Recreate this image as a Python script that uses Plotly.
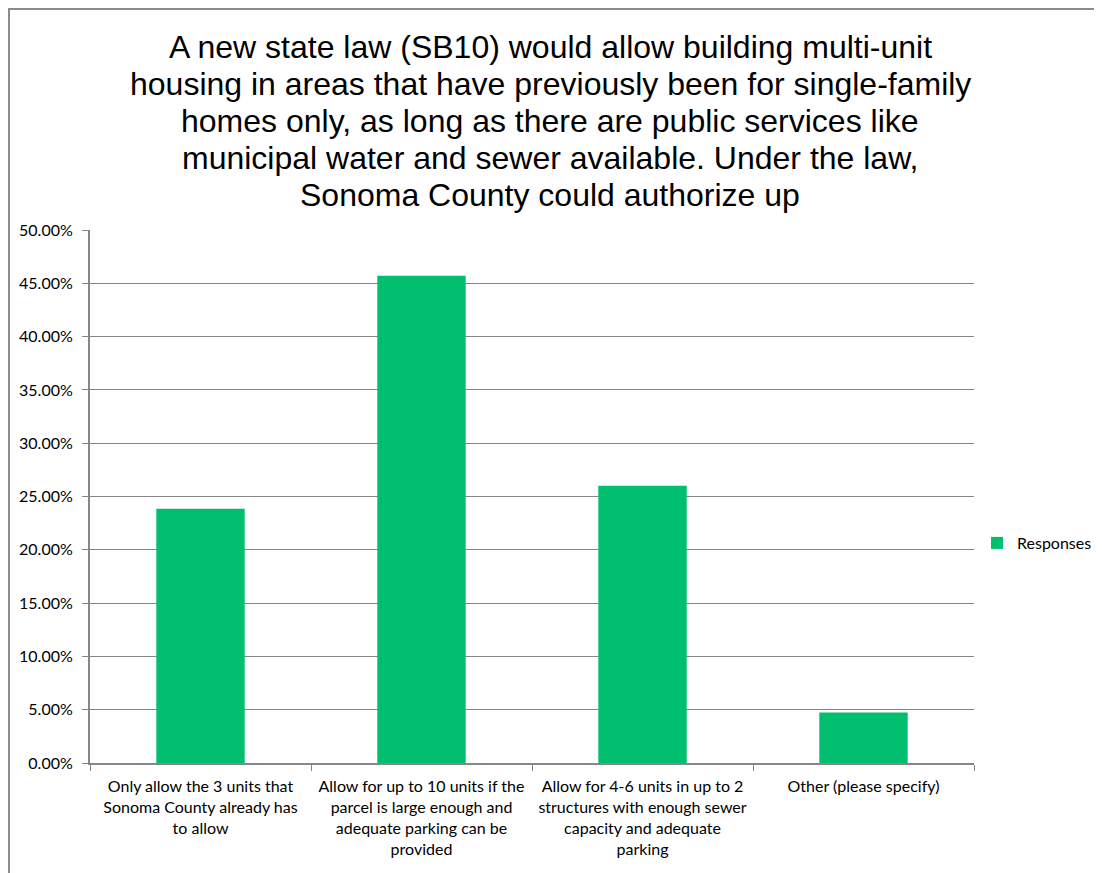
import plotly.graph_objects as go

categories = [
    "Only allow the 3 units that<br>Sonoma County already has<br>to allow",
    "Allow for up to 10 units if the<br>parcel is large enough and<br>adequate parking can be<br>provided",
    "Allow for 4-6 units in up to 2<br>structures with enough sewer<br>capacity and adequate<br>parking",
    "Other (please specify)",
]
values = [23.85, 45.71, 26.0, 4.73]
series_name = "Responses"
title_lines = [
    "A new state law (SB10) would allow building multi-unit",
    "housing in areas that have previously been for single-family",
    "homes only, as long as there are public services like",
    "municipal water and sewer available. Under the law,",
    "Sonoma County could authorize up",
]

# page is offset by the 8px body margin
OFF = 8
W, H = 1102 - OFF, 873 - OFF
PL, PR, PT, PB = 90 - OFF, 974 - OFF, 230 - OFF, 763 - OFF  # plot area in figure px
L, R, T, B = PL, W - PR, PT, H - PB
PW, PH = PR - PL, PB - PT


def px_x(x):
    return (x - OFF - PL) / PW


def px_y(y):
    return (PB - (y - OFF)) / PH


fig = go.Figure()
fig.add_trace(go.Bar(
    x=categories, y=values, name=series_name,
    marker=dict(color="#00BF6F", line=dict(width=0)),
    width=0.4, showlegend=True,
))

axis_gray = "#878787"
title_y0, title_dy = 47, 37
annotations = [
    dict(text=line, xref="paper", yref="paper", x=px_x(550), y=px_y(title_y0 + i * title_dy),
         xanchor="center", yanchor="middle", showarrow=False,
         font=dict(family="Liberation Sans, Arial, sans-serif", size=32, color="#000000"))
    for i, line in enumerate(title_lines)
]

fig.update_layout(
    width=W, height=H,
    margin=dict(l=L, r=R, t=T, b=B, autoexpand=False),
    paper_bgcolor="white", plot_bgcolor="white",
    font=dict(family="Lato, Carlito, Calibri, sans-serif", size=16, color="#000000"),
    showlegend=True,
    legend=dict(x=px_x(977), xanchor="left", y=px_y(543), yanchor="middle",
                bgcolor="rgba(0,0,0,0)", font=dict(size=16), itemwidth=30),
    annotations=annotations,
    xaxis=dict(
        type="category", tickson="boundaries", ticks="outside", ticklen=6,
        tickcolor=axis_gray, showline=True, linecolor=axis_gray, linewidth=2,
        showgrid=False, tickfont=dict(size=16), tickangle=0, ticklabelstandoff=8,
    ),
    yaxis=dict(
        range=[0, 50], dtick=5, tick0=0, tickformat=".2f", ticksuffix="%",
        ticks="outside", ticklen=6, tickcolor=axis_gray,
        showline=True, linecolor=axis_gray, linewidth=2,
        showgrid=True, gridcolor=axis_gray, gridwidth=1, zeroline=False,
        tickfont=dict(size=16), ticklabelstandoff=6,
    ),
    shapes=[dict(type="rect", xref="paper", yref="paper",
                 x0=px_x(OFF + 1), x1=px_x(1102 + 10),
                 y0=px_y(873 + 10), y1=px_y(OFF + 1),
                 line=dict(color="#8c8c8c", width=2), layer="below")],
)

fig.write_html("out.html")
